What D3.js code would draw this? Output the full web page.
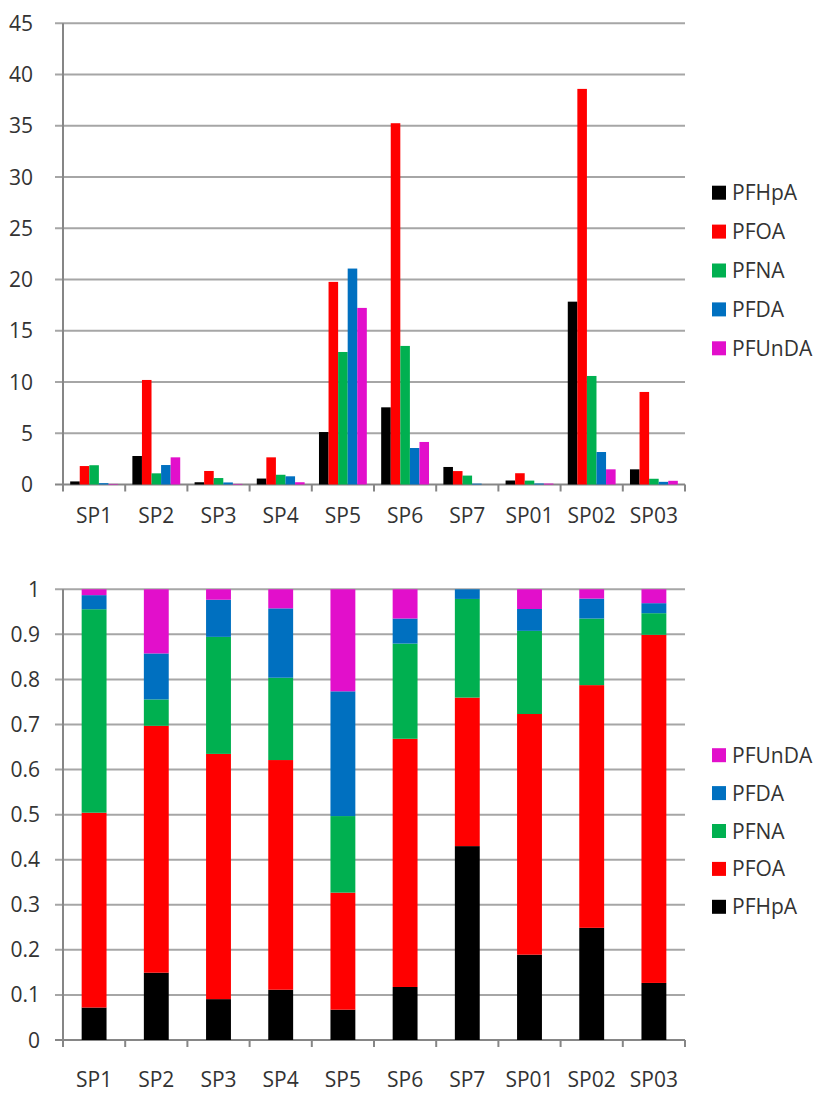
<!DOCTYPE html>
<html>
<head>
<meta charset="utf-8">
<script src="https://cdn.jsdelivr.net/npm/d3@7"></script>
<style>
  body { margin: 0; background: #fff; }
  svg text { font-family: 'Open Sans', sans-serif; font-size: 21px; fill: #333; }
</style>
</head>
<body>
<svg id="chart" width="818" height="1095"></svg>
<script>
const categories = ['SP1', 'SP2', 'SP3', 'SP4', 'SP5', 'SP6', 'SP7', 'SP01', 'SP02', 'SP03'];
const compounds = ['PFHpA', 'PFOA', 'PFNA', 'PFDA', 'PFUnDA'];
const colors = ['#000000', '#ff0000', '#00b050', '#0070c0', '#e20fcb'];

// concentrations per site
const pfhpa = [0.30, 2.78, 0.22, 0.58, 5.12, 7.53, 1.71, 0.39, 17.84, 1.48];
const pfoa = [1.80, 10.2, 1.32, 2.65, 19.77, 35.25, 1.31, 1.10, 38.6, 9.03];
const pfna = [1.88, 1.09, 0.63, 0.95, 12.93, 13.52, 0.87, 0.38, 10.59, 0.56];
const pfda = [0.13, 1.90, 0.20, 0.80, 21.07, 3.56, 0.085, 0.10, 3.17, 0.26];
const pfunda = [0.054, 2.65, 0.056, 0.22, 17.23, 4.15, 0, 0.09, 1.48, 0.36];

const topTicks = [0, 5, 10, 15, 20, 25, 30, 35, 40, 45];
const bottomTicks = [0, 0.1, 0.2, 0.3, 0.4, 0.5, 0.6, 0.7, 0.8, 0.9, 1];

const series = [pfhpa, pfoa, pfna, pfda, pfunda];
const rows = categories.map((c, i) => {
  const row = { site: c };
  compounds.forEach((k, j) => { row[k] = series[j][i]; });
  return row;
});
const color = d3.scaleOrdinal().domain(compounds).range(colors);

const svg = d3.select('#chart');
const left = 63;
const right = 685;

const x = d3.scaleBand()
  .domain(categories)
  .range([left, right])
  .padding(0);

function drawFrame(y, ticks, fmt, labelX, labelY) {
  const g = svg.append('g');
  g.selectAll('line.grid')
    .data(ticks)
    .enter().append('line')
      .attr('class', 'grid')
      .attr('x1', left - 8)
      .attr('x2', right)
      .attr('y1', d => y(d))
      .attr('y2', d => y(d))
      .attr('stroke', d => d === 0 ? '#868686' : '#a6a6a6')
      .attr('stroke-width', 2);
  g.selectAll('text.tick')
    .data(ticks)
    .enter().append('text')
      .attr('class', 'tick')
      .attr('x', labelX)
      .attr('y', d => y(d))
      .attr('dy', '0.36em')
      .attr('text-anchor', 'end')
      .text(fmt);
  g.append('line')
    .attr('x1', left)
    .attr('x2', left)
    .attr('y1', y(ticks[ticks.length - 1]))
    .attr('y2', y(0) + 7)
    .attr('stroke', '#868686')
    .attr('stroke-width', 2);
  const bounds = categories.map(c => x(c)).concat([right]);
  g.selectAll('line.xtick')
    .data(bounds.slice(1))
    .enter().append('line')
      .attr('class', 'xtick')
      .attr('x1', d => d)
      .attr('x2', d => d)
      .attr('y1', y(0))
      .attr('y2', y(0) + 7)
      .attr('stroke', '#868686')
      .attr('stroke-width', 2);
  g.selectAll('text.cat')
    .data(categories)
    .enter().append('text')
      .attr('class', 'cat')
      .attr('x', d => x(d) + x.bandwidth() / 2)
      .attr('y', labelY)
      .attr('text-anchor', 'middle')
      .text(d => d);
}

function drawLegend(keys, x0, y0, step) {
  const item = svg.append('g')
    .selectAll('g')
    .data(keys)
    .enter().append('g')
      .attr('transform', (d, i) => `translate(${x0},${y0 + i * step})`);
  item.append('rect')
    .attr('x', 0)
    .attr('y', -7)
    .attr('width', 14)
    .attr('height', 14)
    .attr('fill', d => color(d));
  item.append('text')
    .attr('x', 20)
    .attr('y', 0)
    .attr('dy', '0.36em')
    .text(d => d);
}

// top: clustered columns
const yTop = d3.scaleLinear().domain([0, 45]).range([484.5, 23.3]);
drawFrame(yTop, topTicks, d => d, 33, 523);

const barW = x.bandwidth() / 6.5;
const x1 = d3.scaleBand()
  .domain(compounds)
  .range([barW * 0.75, barW * 5.75]);

svg.append('g')
  .selectAll('g')
  .data(rows)
  .enter().append('g')
    .attr('transform', d => `translate(${x(d.site)},0)`)
    .selectAll('rect')
    .data(d => compounds.map(k => ({ key: k, value: d[k] })))
    .enter().append('rect')
      .attr('x', d => x1(d.key))
      .attr('width', x1.bandwidth())
      .attr('y', d => yTop(d.value))
      .attr('height', d => yTop(0) - yTop(d.value))
      .attr('fill', d => color(d.key));

drawLegend(compounds, 712, 192.7, 38.9);

// bottom: 100% stacked columns
const yBot = d3.scaleLinear().domain([0, 1]).range([1040, 589.3]);
drawFrame(yBot, bottomTicks, d => d, 40, 1087);

const stacked = d3.stack()
  .keys(compounds)
  .offset(d3.stackOffsetExpand)(rows);

const colW = x.bandwidth() / 2.5;
svg.append('g')
  .selectAll('g')
  .data(stacked)
  .enter().append('g')
    .attr('fill', d => color(d.key))
    .selectAll('rect')
    .data(d => d)
    .enter().append('rect')
      .attr('x', d => x(d.data.site) + (x.bandwidth() - colW) / 2)
      .attr('width', colW)
      .attr('y', d => yBot(d[1]))
      .attr('height', d => yBot(d[0]) - yBot(d[1]));

drawLegend(compounds.slice().reverse(), 712, 755.2, 37.9);
</script>
</body>
</html>
